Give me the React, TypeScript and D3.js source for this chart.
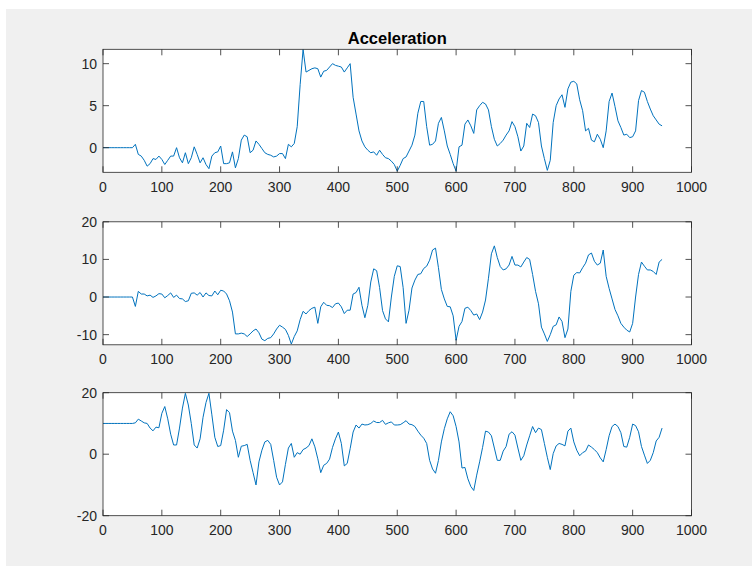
import * as d3 from 'd3';
import { useEffect, useRef } from 'react';

const LINE_COLOR = '#0072BD';
const AXIS_COLOR = '#262626';
const FIGURE_BG = '#f0f0f0';
const FONT = "'Liberation Sans', Arial, Helvetica, sans-serif";

// samples are read every 5 units along x (0..950)
const SAMPLE_STEP = 5;
const X_DOMAIN = [0, 1000];
const X_TICKS = [0, 100, 200, 300, 400, 500, 600, 700, 800, 900, 1000];
const TITLE = 'Acceleration';

const ACC_X = [
    0, 0, 0, 0, 0, 0, 0, 0, 0, 0,
    0, 0.4, -0.8, -1.0, -1.5, -2.2, -1.9, -1.3, -1.4, -1.0,
    -1.4, -2.0, -1.5, -1.0, -1.0, 0.0, -1.2, -1.8, -0.6, -1.9,
    -1.2, 0.1, -0.8, -1.8, -1.2, -2.0, -2.5, -1.0, -0.6, -0.5,
    0.2, -1.9, -1.9, -1.8, -0.5, -2.4, -1.3, 0.9, 1.5, 1.3,
    -0.6, -0.3, 0.8, 0.4, -0.1, -0.6, -0.8, -0.9, -1.1, -1.0,
    -0.7, -0.7, -1.3, 0.4, 0.1, 0.5, 2.5, 7.5, 11.7, 9.0,
    9.2, 9.4, 9.5, 9.4, 8.4, 9.1, 9.2, 9.6, 10.0, 9.8,
    9.7, 9.6, 9.0, 9.5, 10.0, 6.0, 4.0, 2.0, 0.8, 0.1,
    -0.3, -0.6, -0.5, -0.9, -0.3, -0.8, -1.2, -1.3, -1.6, -2.0,
    -2.8, -2.1, -1.3, -1.1, -0.4, 0.3, 1.5, 4.1, 5.5, 5.5,
    2.5, 0.3, 0.4, 0.8, 2.9, 3.6, 2.0, 0.2, -0.8, -1.9,
    -2.8, 0.1, 0.3, 2.8, 3.3, 2.6, 1.7, 4.5, 5.0, 5.4,
    5.2, 4.5, 2.5, 1.0, 0.2, 0.5, 0.9, 1.5, 2.0, 3.1,
    2.5, 1.3, -0.4, 0.2, 2.9, 2.4, 4.0, 3.8, 3.0, 0.2,
    -1.3, -2.7, -1.5, 3.0, 5.0, 5.8, 6.3, 4.8, 7.0, 7.8,
    7.9, 7.6, 5.7, 4.4, 2.0, 2.3, 0.9, 0.7, 1.6, 1.0,
    0.0, 2.0, 5.5, 6.5, 4.9, 3.2, 2.4, 1.5, 1.6, 1.2,
    1.3, 2.0, 5.6, 6.8, 6.6, 5.5, 4.6, 3.8, 3.3, 2.8,
    2.6,
];

const ACC_Y = [
    0, 0, 0, 0, 0, 0, 0, 0, 0, 0,
    0, -2.5, 1.5, 0.8, 0.8, 0.3, 0.5, -0.1, 0.3, 0.9,
    0.8, -0.2, 0.4, 1.1, -0.1, 0.5, -0.4, -0.5, -1.2, -1.0,
    1.0, 1.1, 0.5, 1.2, 0.0, 1.1, 0.4, 0.3, 1.6, 0.6,
    1.8, 1.6, 0.8, -1.0, -4.0, -9.8, -9.8, -9.6, -9.8, -10.5,
    -9.8, -9.0, -8.5, -9.5, -11.2, -11.6, -11.0, -10.8, -9.8, -8.5,
    -7.5, -8.0, -8.6, -10.2, -12.5, -10.5, -9.0, -6.0, -3.8, -4.5,
    -3.6, -3.0, -2.7, -7.0, -2.6, -1.4, -2.2, -2.3, -2.8, -1.8,
    -1.6, -2.6, -4.4, -3.5, -3.5, 0.8, 1.2, 2.6, -2.2, -5.5,
    -2.2, 4.0, 7.5, 7.0, 2.5, -3.6, -5.8, -6.6, 0.0, 5.5,
    8.3, 8.1, 2.5, -7.0, -3.5, 2.4, 4.5, 6.0, 6.2, 7.6,
    8.2, 9.8, 12.5, 13.0, 7.8, 2.0, -0.5, -2.5, -2.6, -5.0,
    -11.5, -7.8, -6.5, -3.0, -2.7, -3.6, -4.8, -4.5, -6.0, -4.0,
    -0.8, 5.0, 11.5, 13.6, 10.5, 8.1, 7.2, 7.5, 8.5, 10.8,
    8.5, 8.5, 8.0, 9.3, 10.5, 10.0, 6.0, 1.5, -1.8, -8.0,
    -9.8, -11.8, -10.0, -7.8, -7.4, -5.3, -6.5, -10.8, -8.5, 1.5,
    5.8, 6.5, 6.4, 7.8, 9.0, 11.2, 11.7, 9.5, 8.5, 9.0,
    12.5, 5.5, 2.3, -0.5, -3.3, -5.0, -7.0, -8.0, -8.8, -9.3,
    -7.0, 0.0, 6.0, 9.3, 8.2, 7.2, 7.2, 6.8, 6.0, 9.3,
    10.0,
];

const ACC_Z = [
    10, 10, 10, 10, 10, 10, 10, 10, 10, 10,
    10, 10.2, 11.4, 10.8, 10.2, 10.0, 8.5, 7.6, 8.8, 8.6,
    13.3, 15.5, 11.5, 6.5, 3.0, 3.0, 8.5, 15.0, 19.8, 16.0,
    10.0, 3.0, 2.0, 5.0, 12.0, 16.8, 19.8, 12.8, 5.5, 2.5,
    2.8, 7.8, 14.5, 13.5, 7.5, 4.5, -1.0, 2.6, 2.8, 3.2,
    -2.0, -6.0, -10.0, -2.5, 1.3, 4.0, 4.5, 3.2, -2.0, -7.5,
    -10.0, -9.0, -3.3, 2.0, 3.5, -1.0, 0.5, 0.0, 1.5, 2.0,
    2.8, 5.0, 2.4, -1.5, -6.0, -3.6, -3.0, -1.6, 2.2, 5.0,
    7.2, 3.5, -3.8, -3.0, 1.8, 7.2, 9.5, 8.5, 9.8, 9.5,
    9.6, 10.0, 10.8, 10.3, 10.3, 11.0, 9.7, 10.2, 10.5, 9.5,
    9.5, 9.6, 10.2, 10.9, 9.8, 9.6, 9.0, 7.5, 6.2, 5.2,
    3.5, -2.0, -4.8, -6.2, -2.0, 4.0, 8.3, 11.5, 13.8, 12.5,
    9.0, 4.0, -4.5, -4.3, -8.0, -10.5, -11.8, -6.8, -2.5, 2.2,
    7.5, 7.2, 6.0, 2.0, -2.0, -2.0, 1.0, 2.5, 6.5, 7.3,
    6.2, 2.0, -2.0, -0.5, 3.0, 6.0, 9.0, 7.0, 8.5, 8.0,
    3.5, -1.0, -5.0, 0.2, 2.7, 3.5, 3.2, 2.7, 7.5, 8.5,
    4.0, 1.3, -0.5, 0.5, 1.0, 3.0, 2.3, 1.5, 0.5, -1.2,
    -2.5, 1.5, 6.0, 9.0, 9.8, 9.0, 7.0, 2.5, 2.3, 5.5,
    9.8, 9.3, 7.3, 2.5, -0.3, -3.0, -2.0, 0.5, 4.3, 5.5,
    8.5,
];

const Y_LIMITS = [[-2.93, 11.71], [-12.7, 20], [-20, 20]];
const Y_TICKS = [[0, 5, 10], [-10, 0, 10, 20], [-20, 0, 20]];

export default function App() {
    const ref = useRef<any>();

    useEffect(() => {
        const width = 752;
        const height = 567;
        const axLeft = 103;
        const axWidth = 588.5;
        const axHeight = 123;
        const axTops = [49.3, 221.8, 392.7];
        const tickLen = 6;

        const svg = d3.select<any, any>(ref.current);
        svg.selectAll('*').remove();
        svg.attr('width', width).attr('height', height);

        svg.append('rect').attr('width', width).attr('height', height).attr('fill', '#ffffff');
        svg.append('rect')
            .attr('x', 6).attr('y', 9)
            .attr('width', width - 6).attr('height', height - 10)
            .attr('fill', FIGURE_BG);

        const series = [ACC_X, ACC_Y, ACC_Z];
        const xScale = d3.scaleLinear().domain(X_DOMAIN).range([0, axWidth]);

        series.forEach((values, i) => {
            const yScale = d3.scaleLinear().domain(Y_LIMITS[i]).range([axHeight, 0]);
            const stage = svg.append('g')
                .attr('transform', `translate(${axLeft}, ${axTops[i]})`);

            stage.append('rect')
                .attr('width', axWidth).attr('height', axHeight)
                .attr('fill', '#ffffff');

            const clipId = `clip-${i}`;
            stage.append('clipPath').attr('id', clipId)
                .append('rect').attr('width', axWidth).attr('height', axHeight);

            const line = d3.line<number>()
                .x((_, k) => xScale(k * SAMPLE_STEP))
                .y((d) => yScale(d));

            stage.append('path')
                .datum(values)
                .attr('clip-path', `url(#${clipId})`)
                .attr('d', line)
                .attr('fill', 'none')
                .attr('stroke', LINE_COLOR)
                .attr('stroke-width', 1)
                .attr('stroke-linejoin', 'round');

            // inward ticks on all four sides
            const ticks = stage.append('g')
                .attr('stroke', AXIS_COLOR)
                .attr('stroke-width', 0.8);
            X_TICKS.forEach((t) => {
                const x = xScale(t);
                ticks.append('line').attr('x1', x).attr('x2', x).attr('y1', axHeight).attr('y2', axHeight - tickLen);
                ticks.append('line').attr('x1', x).attr('x2', x).attr('y1', 0).attr('y2', tickLen);
            });
            Y_TICKS[i].forEach((t) => {
                const y = yScale(t);
                ticks.append('line').attr('x1', 0).attr('x2', tickLen).attr('y1', y).attr('y2', y);
                ticks.append('line').attr('x1', axWidth).attr('x2', axWidth - tickLen).attr('y1', y).attr('y2', y);
            });

            stage.append('rect')
                .attr('width', axWidth).attr('height', axHeight)
                .attr('fill', 'none')
                .attr('stroke', AXIS_COLOR)
                .attr('stroke-width', 0.8);

            stage.append('g').selectAll('text').data(X_TICKS).join('text')
                .attr('x', (d) => xScale(d))
                .attr('y', axHeight + 19.5)
                .attr('text-anchor', 'middle')
                .attr('font-family', FONT)
                .attr('font-size', 14)
                .attr('fill', AXIS_COLOR)
                .text((d) => d);

            stage.append('g').selectAll('text').data(Y_TICKS[i]).join('text')
                .attr('x', -6)
                .attr('y', (d) => yScale(d))
                .attr('dy', '0.35em')
                .attr('text-anchor', 'end')
                .attr('font-family', FONT)
                .attr('font-size', 14)
                .attr('fill', AXIS_COLOR)
                .text((d) => d);
        });

        svg.append('text')
            .attr('x', axLeft + axWidth / 2)
            .attr('y', 44)
            .attr('text-anchor', 'middle')
            .attr('font-family', FONT)
            .attr('font-size', 16.5)
            .attr('font-weight', 'bold')
            .attr('fill', '#000000')
            .text(TITLE);
    });

    return (
        <div style={{ position: 'absolute', left: 0, top: 0 }}>
            <svg ref={ref} style={{ display: 'block' }}></svg>
        </div>
    );
}
